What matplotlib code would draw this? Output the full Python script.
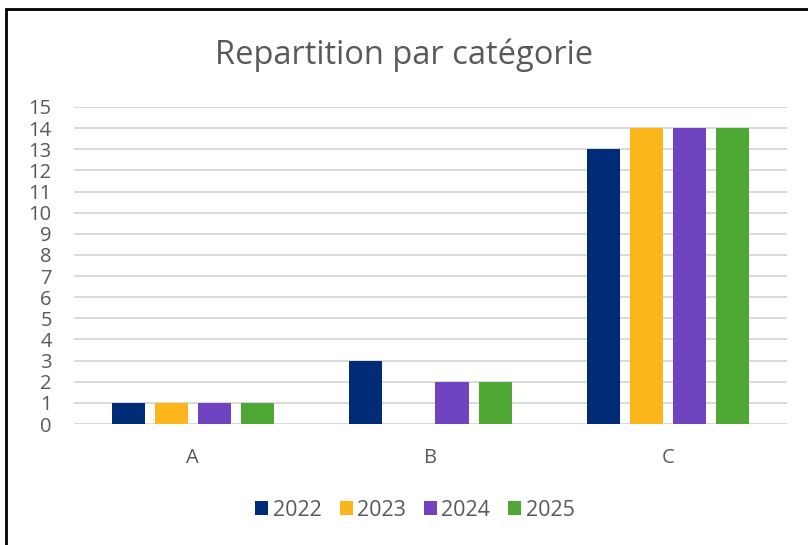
import numpy as np
import matplotlib.pyplot as plt
from matplotlib.patches import Rectangle

categories = ["A", "B", "C"]
years = ["2022", "2023", "2024", "2025"]
v2022 = [1, 3, 13]
v2023 = [1, 0, 14]
v2024 = [1, 2, 14]
v2025 = [1, 2, 14]
colors = ["#002c77", "#fdb51c", "#7043c0", "#4ea833"]

plt.rcParams['font.family'] = ['Open Sans', 'DejaVu Sans']
text_col = "#595959"

fig = plt.figure(figsize=(8.08, 5.45), dpi=100)
# plot area: x 74..787 px, y 107..424 px
ax = fig.add_axes([74 / 808, 1 - 424 / 545, 713 / 808, 317 / 545])

x = np.arange(len(categories))
width = 0.139
step = 0.181
for i, (vals, col, yr) in enumerate(zip([v2022, v2023, v2024, v2025], colors, years)):
    ax.bar(x + (i - 1.5) * step, vals, width, color=col, label=yr, zorder=3)

ax.set_xlim(-0.5, 2.5)
ax.set_ylim(0, 15)
ax.set_yticks(range(0, 16))
ax.yaxis.grid(True, color="#d9d9d9", linewidth=1.4, zorder=0)
for s in ax.spines.values():
    s.set_visible(False)
ax.tick_params(axis="both", length=0, colors=text_col, labelsize=14.5)
ax.tick_params(axis="y", pad=16)
ax.tick_params(axis="x", pad=17)
ax.set_xticks(x)
ax.set_xticklabels(categories)

fig.suptitle("Repartition par catégorie", y=0.93, fontsize=23.5, color=text_col)

ax.legend(loc="center", bbox_to_anchor=(415 / 808, 1 - 510 / 545), bbox_transform=fig.transFigure,
          ncol=4, frameon=False, fontsize=15.5, labelcolor=text_col,
          handlelength=0.6, handleheight=0.6, handletextpad=0.2, columnspacing=0.85)

# chart border (partially cropped in the original)
fig.patches.append(Rectangle((6 / 808, -0.1), 1.2, 1.1 - 9 / 545, transform=fig.transFigure,
                             fill=False, edgecolor="black", linewidth=2))

fig.savefig("out.png", dpi=100)
